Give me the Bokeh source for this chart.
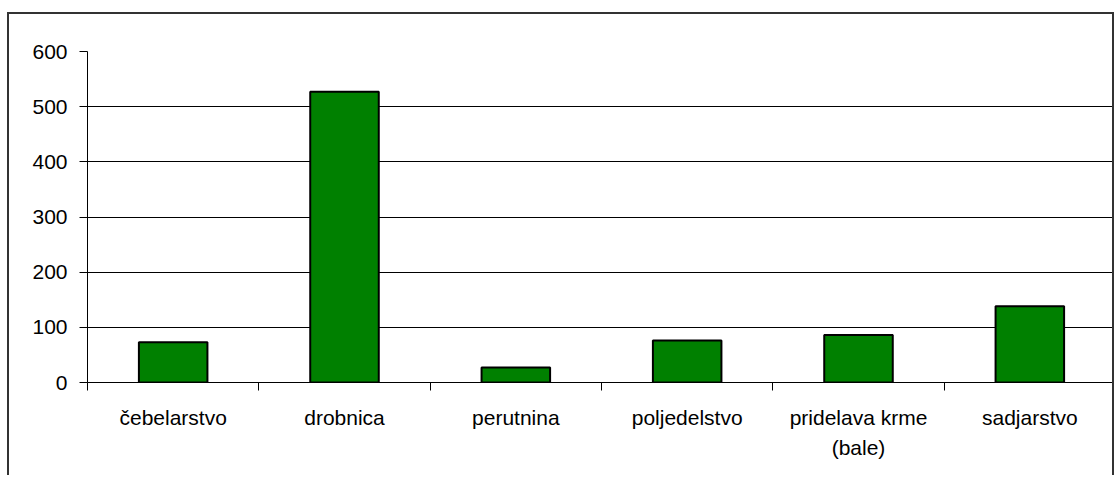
from bokeh.plotting import figure
from bokeh.models import Range1d, FixedTicker
from bokeh.embed import file_html
from bokeh.resources import INLINE

categories = ["čebelarstvo", "drobnica", "perutnina", "poljedelstvo", "pridelava krme\n(bale)", "sadjarstvo"]
values = [73, 527, 27, 76, 86, 138]
y_ticks = [0, 100, 200, 300, 400, 500, 600]
grid_lines = [100, 200, 300, 400, 500]

centers = [i + 0.5 for i in range(len(categories))]
bounds = list(range(len(categories) + 1))

p = figure(width=1107, height=463, output_backend="svg", toolbar_location=None,
           x_range=Range1d(0, len(categories)), y_range=Range1d(0, 600),
           min_border_left=78, min_border_right=1, min_border_top=37, min_border_bottom=95)
p.outline_line_color = None
p.background_fill_color = "white"
p.border_fill_color = "white"
p.styles = {"border-top": "2px solid #333", "border-left": "2px solid #333",
            "border-right": "2px solid #333", "margin-top": "12px", "margin-left": "7px"}

p.vbar(x=centers, top=values, bottom=0, width=0.40, fill_color="#008000",
       line_color="black", line_width=2)

# y axis
p.yaxis.ticker = FixedTicker(ticks=y_ticks)
p.yaxis.axis_line_color = "black"
p.yaxis.major_tick_line_color = "black"
p.yaxis.major_tick_out = 8
p.yaxis.major_tick_in = 0
p.yaxis.minor_tick_line_color = None
p.yaxis.major_label_text_font = "Liberation Sans"
p.yaxis.major_label_text_font_size = "21px"
p.yaxis.major_label_text_color = "black"
p.yaxis.major_label_standoff = 12

# x axis
p.xaxis.ticker = FixedTicker(ticks=centers, minor_ticks=bounds)
p.xaxis.major_label_overrides = {c: lab for c, lab in zip(centers, categories)}
p.xaxis.axis_line_color = "black"
p.xaxis.major_tick_line_color = None
p.xaxis.major_tick_out = 0
p.xaxis.major_tick_in = 0
p.xaxis.minor_tick_line_color = "black"
p.xaxis.minor_tick_out = 8
p.xaxis.minor_tick_in = 0
p.xaxis.major_label_text_font = "Liberation Sans"
p.xaxis.major_label_text_font_size = "21px"
p.xaxis.major_label_text_line_height = 1.33
p.xaxis.major_label_text_color = "black"
p.xaxis.major_label_standoff = 15

# grid
p.xgrid.grid_line_color = None
p.ygrid.ticker = FixedTicker(ticks=grid_lines)
p.ygrid.grid_line_color = "black"
p.ygrid.grid_line_width = 1

open("out.html", "w").write(file_html(p, INLINE))
